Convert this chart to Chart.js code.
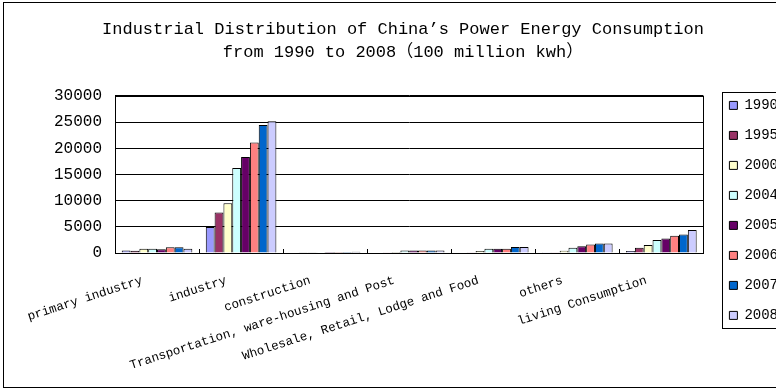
<!DOCTYPE html>
<html>
<head>
<meta charset="utf-8">
<script src="https://cdn.jsdelivr.net/npm/chart.js@4/dist/chart.umd.min.js"></script>
<style>
  html, body { margin: 0; padding: 0; background: #fff; overflow: hidden; }
  #box { position: absolute; left: 3px; top: 2px; width: 800px; height: 386px; border: 1px solid #000; box-sizing: border-box; }
</style>
</head>
<body>
<div id="box"><canvas id="power"></canvas></div>
<script>
// chart data (100 million kwh)
var categories = ['primary industry', 'industry', 'construction', 'Transportation, ware-housing and Post',
    'Wholesale, Retail, Lodge and Food', 'others', 'living Consumption'];
var years = ['1990', '1995', '2000', '2004', '2005', '2006', '2007', '2008'];
var v1990 = [500, 4950, 100, 100, 100, 150, 400];
var v1995 = [420, 7740, 120, 150, 150, 150, 1000];
var v2000 = [800, 9510, 130, 200, 400, 450, 1530];
var v2004 = [800, 16240, 150, 500, 800, 1000, 2480];
var v2005 = [700, 18340, 170, 500, 800, 1300, 2790];
var v2006 = [1100, 21110, 190, 500, 800, 1600, 3300];
var v2007 = [1100, 24420, 210, 500, 1150, 1800, 3550];
var v2008 = [800, 25180, 230, 500, 1150, 1800, 4380];
var yTicks = [0, 5000, 10000, 15000, 20000, 25000, 30000];

var series = [v1990, v1995, v2000, v2004, v2005, v2006, v2007, v2008];
var colors = ['#9999FF', '#993366', '#FFFFCC', '#CCFFFF', '#660066', '#FF8080', '#0066CC', '#CCCCFF'];
var FONT = '"Liberation Mono", "Noto Sans CJK SC", monospace';

// plot frame, inside tick marks on the category axis, box round the legend
var framePlugin = {
    id: 'frames',
    afterDraw: function (chart) {
        var c = chart.ctx, a = chart.chartArea;
        c.save();
        c.strokeStyle = '#000';
        c.lineWidth = 1;
        c.strokeRect(Math.round(a.left) + 0.5, Math.round(a.top) + 0.5, Math.round(a.right - a.left), Math.round(a.bottom - a.top));
        var n = categories.length;
        for (var i = 1; i < n; i++) {
            var x = Math.round(a.left + i * (a.right - a.left) / n) + 0.5;
            c.beginPath();
            c.moveTo(x, a.bottom);
            c.lineTo(x, a.bottom - 4);
            c.stroke();
        }
        var hb = chart.legend.legendHitBoxes;
        if (hb && hb.length) {
            var l = hb[0].left - 7, t = hb[0].top - 6;
            var last = hb[hb.length - 1];
            c.strokeRect(Math.round(l) + 0.5, Math.round(t) + 0.5, 80, Math.round(last.top + last.height + 6 - t));
        }
        c.restore();
    }
};

var ctx = document.getElementById('power').getContext('2d');
var powerChart = new Chart(ctx, {
    type: 'bar',
    data: {
        labels: categories,
        datasets: years.map(function (y, i) {
            return {
                label: y,
                data: series[i],
                backgroundColor: colors[i],
                borderColor: '#000',
                borderWidth: 1,
                categoryPercentage: 0.84,
                barPercentage: 1.0
            };
        })
    },
    options: {
        responsive: true,
        maintainAspectRatio: false,
        animation: false,
        layout: { padding: { left: 14, right: 14, top: 0, bottom: 0 } },
        plugins: {
            title: {
                display: true,
                text: ['Industrial Distribution of China’s Power Energy Consumption', 'from 1990 to 2008（100 million kwh）'],
                color: '#000',
                font: { family: FONT, size: 17, weight: 'normal', lineHeight: 1.35 },
                padding: { top: 15, bottom: 32 }
            },
            legend: {
                position: 'right',
                align: 'start',
                title: { display: true, text: '', font: { size: 12 }, padding: { top: 0, bottom: 65 } },
                labels: {
                    color: '#000',
                    font: { family: FONT, size: 14 },
                    boxWidth: 8,
                    boxHeight: 8,
                    padding: 16
                }
            },
            tooltip: { enabled: false }
        },
        scales: {
            x: {
                grid: { display: false },
                border: { color: '#000' },
                afterFit: function (axis) { axis.height = 134; },
                ticks: {
                    color: '#000',
                    autoSkip: false,
                    minRotation: 18,
                    maxRotation: 18,
                    labelOffset: -15,
                    padding: 12,
                    font: { family: FONT, size: 12.5 }
                }
            },
            y: {
                min: 0,
                max: 30000,
                afterBuildTicks: function (axis) {
                    axis.ticks = yTicks.map(function (v) { return { value: v }; });
                },
                afterFit: function (axis) { axis.width = 97; },
                grid: { color: '#000', drawTicks: false },
                border: { color: '#000' },
                ticks: {
                    color: '#000',
                    padding: 13,
                    font: { family: FONT, size: 16 },
                    callback: function (v) { return String(v); }
                }
            },
            // empty axis, only keeps a gap between the plot and the legend
            gap: {
                type: 'linear',
                position: 'right',
                grid: { display: false },
                border: { display: false },
                ticks: { display: false },
                afterFit: function (axis) { axis.width = 10; }
            }
        }
    },
    plugins: [framePlugin]
});
</script>
</body>
</html>
